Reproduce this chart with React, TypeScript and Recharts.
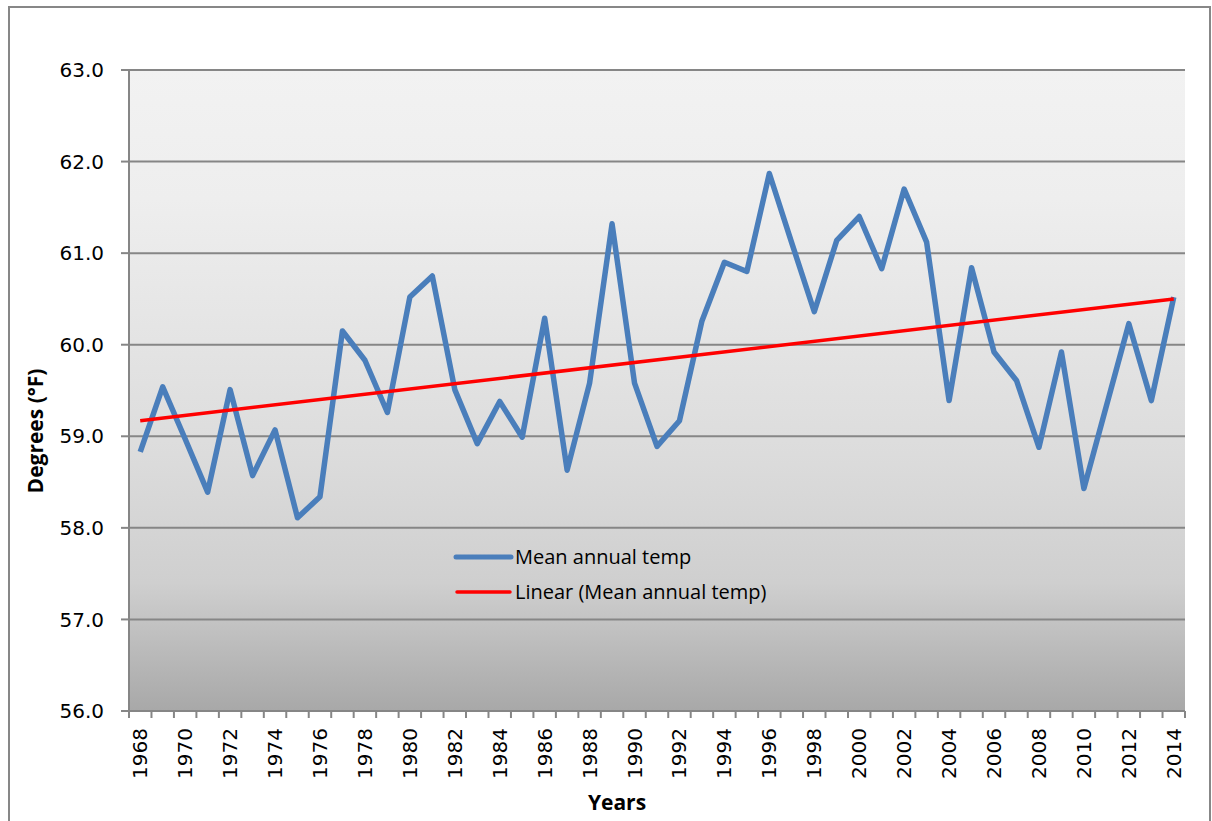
import React from "react";
import { LineChart, Line, XAxis, YAxis, CartesianGrid } from "recharts";

const years = [
  1968, 1969, 1970, 1971, 1972, 1973, 1974, 1975, 1976, 1977,
  1978, 1979, 1980, 1981, 1982, 1983, 1984, 1985, 1986, 1987,
  1988, 1989, 1990, 1991, 1992, 1993, 1994, 1995, 1996, 1997,
  1998, 1999, 2000, 2001, 2002, 2003, 2004, 2005, 2006, 2007,
  2008, 2009, 2010, 2011, 2012, 2013, 2014,
];

const meanTemp = [
  58.83, 59.54, 58.97, 58.39, 59.51, 58.57, 59.07, 58.11, 58.34, 60.15,
  59.83, 59.26, 60.52, 60.75, 59.51, 58.92, 59.38, 58.99, 60.29, 58.63,
  59.58, 61.32, 59.58, 58.89, 59.17, 60.26, 60.9, 60.8, 61.87, 61.11,
  60.36, 61.14, 61.4, 60.83, 61.7, 61.12, 59.39, 60.84, 59.92, 59.61,
  58.88, 59.92, 58.43, 59.33, 60.23, 59.39, 60.52,
];

const trendYears = [1968, 2014];
const trendValues = [59.17, 60.5];

const yTicks = [56, 57, 58, 59, 60, 61, 62, 63];
const labelYears = years.filter((y) => y % 2 === 0);
const boundaries = [...years.map((y) => y - 0.5), years[years.length - 1] + 0.5];

const data = years.map((year, i) => ({ year, temp: meanTemp[i] }));
const trendData = trendYears.map((year, i) => ({ year, trend: trendValues[i] }));

const BLUE = "#4a7ebb";
const RED = "#ff0000";
const GRID = "#868686";
const TICK_FONT = "'DejaVu Sans', sans-serif";
const TEXT_FONT = "'Open Sans', sans-serif";

const YearTick = (props: any) => {
  const { x, y, payload } = props;
  return (
    <text
      x={x}
      y={y}
      transform={`rotate(-90, ${x}, ${y})`}
      textAnchor="end"
      dominantBaseline="central"
      fontFamily={TICK_FONT}
      fontSize={20}
      fill="#000"
    >
      {payload.value}
    </text>
  );
};

const LegendBox = () => (
  <div style={{ position: "absolute", left: 453, top: 539, fontFamily: TEXT_FONT, fontSize: 20, color: "#000" }}>
    <div style={{ display: "flex", alignItems: "center", height: 35 }}>
      <svg width={62} height={10}>
        <line x1={3} y1={5} x2={58} y2={5} stroke={BLUE} strokeWidth={5} strokeLinecap="round" />
      </svg>
      <span>Mean annual temp</span>
    </div>
    <div style={{ display: "flex", alignItems: "center", height: 35 }}>
      <svg width={62} height={10}>
        <line x1={4} y1={5} x2={57} y2={5} stroke={RED} strokeWidth={3.5} strokeLinecap="round" />
      </svg>
      <span>Linear (Mean annual temp)</span>
    </div>
  </div>
);

export default function App() {
  return (
    <div style={{ position: "absolute", left: 0, top: 0, width: 1212, height: 821, overflow: "hidden", background: "#fff" }}>
      <LineChart width={1212} height={821} data={data} margin={{ top: 70, right: 27, bottom: 0, left: 0 }}>
        <defs>
          <linearGradient id="plotBg" x1="0" y1="0" x2="0" y2="1">
            <stop offset="0%" stopColor="#f2f2f2" />
            <stop offset="20%" stopColor="#eeeeee" />
            <stop offset="60%" stopColor="#dcdcdc" />
            <stop offset="80%" stopColor="#cfcfcf" />
            <stop offset="100%" stopColor="#a8a8a8" />
          </linearGradient>
        </defs>
        <CartesianGrid xAxisId="a" vertical={false} stroke={GRID} strokeWidth={2} fill="url(#plotBg)" fillOpacity={1} />
        <XAxis
          xAxisId="a"
          dataKey="year"
          type="number"
          domain={[boundaries[0], boundaries[boundaries.length - 1]]}
          ticks={boundaries}
          interval={0}
          height={10}
          tickSize={7}
          tickFormatter={() => ""}
          axisLine={{ stroke: GRID, strokeWidth: 2 }}
          tickLine={{ stroke: GRID, strokeWidth: 2 }}
        />
        <XAxis
          xAxisId="b"
          dataKey="year"
          type="number"
          domain={[boundaries[0], boundaries[boundaries.length - 1]]}
          ticks={labelYears}
          interval={0}
          height={100}
          tickSize={0}
          tickMargin={7}
          axisLine={false}
          tickLine={false}
          tick={<YearTick />}
        />
        <YAxis
          domain={[56, 63]}
          ticks={yTicks}
          interval={0}
          width={129}
          tickSize={8}
          tickMargin={17}
          tickFormatter={(v: number) => v.toFixed(1)}
          tick={{ fontFamily: TICK_FONT, fontSize: 20, fill: "#000" }}
          axisLine={{ stroke: GRID, strokeWidth: 2 }}
          tickLine={{ stroke: GRID, strokeWidth: 2 }}
        />
        <Line
          xAxisId="a"
          dataKey="temp"
          stroke={BLUE}
          strokeWidth={5.5}
          strokeLinejoin="round"
          dot={false}
          activeDot={false}
          isAnimationActive={false}
        />
        <Line
          xAxisId="a"
          data={trendData}
          dataKey="trend"
          stroke={RED}
          strokeWidth={3.5}
          dot={false}
          activeDot={false}
          isAnimationActive={false}
        />
      </LineChart>
      <LegendBox />
      <div
        style={{
          position: "absolute",
          left: 35,
          top: 431,
          transform: "translate(-50%, -50%) rotate(-90deg)",
          fontFamily: TEXT_FONT,
          fontWeight: 700,
          fontSize: 21,
          whiteSpace: "nowrap",
          color: "#000",
        }}
      >
        Degrees (°F)
      </div>
      <div
        style={{
          position: "absolute",
          left: 617,
          top: 802,
          transform: "translate(-50%, -50%)",
          fontFamily: TEXT_FONT,
          fontWeight: 700,
          fontSize: 21,
          whiteSpace: "nowrap",
          color: "#000",
        }}
      >
        Years
      </div>
      <div
        style={{
          position: "absolute",
          left: 8,
          top: 6,
          width: 1199,
          height: 900,
          border: "2px solid #878787",
          pointerEvents: "none",
        }}
      />
    </div>
  );
}
